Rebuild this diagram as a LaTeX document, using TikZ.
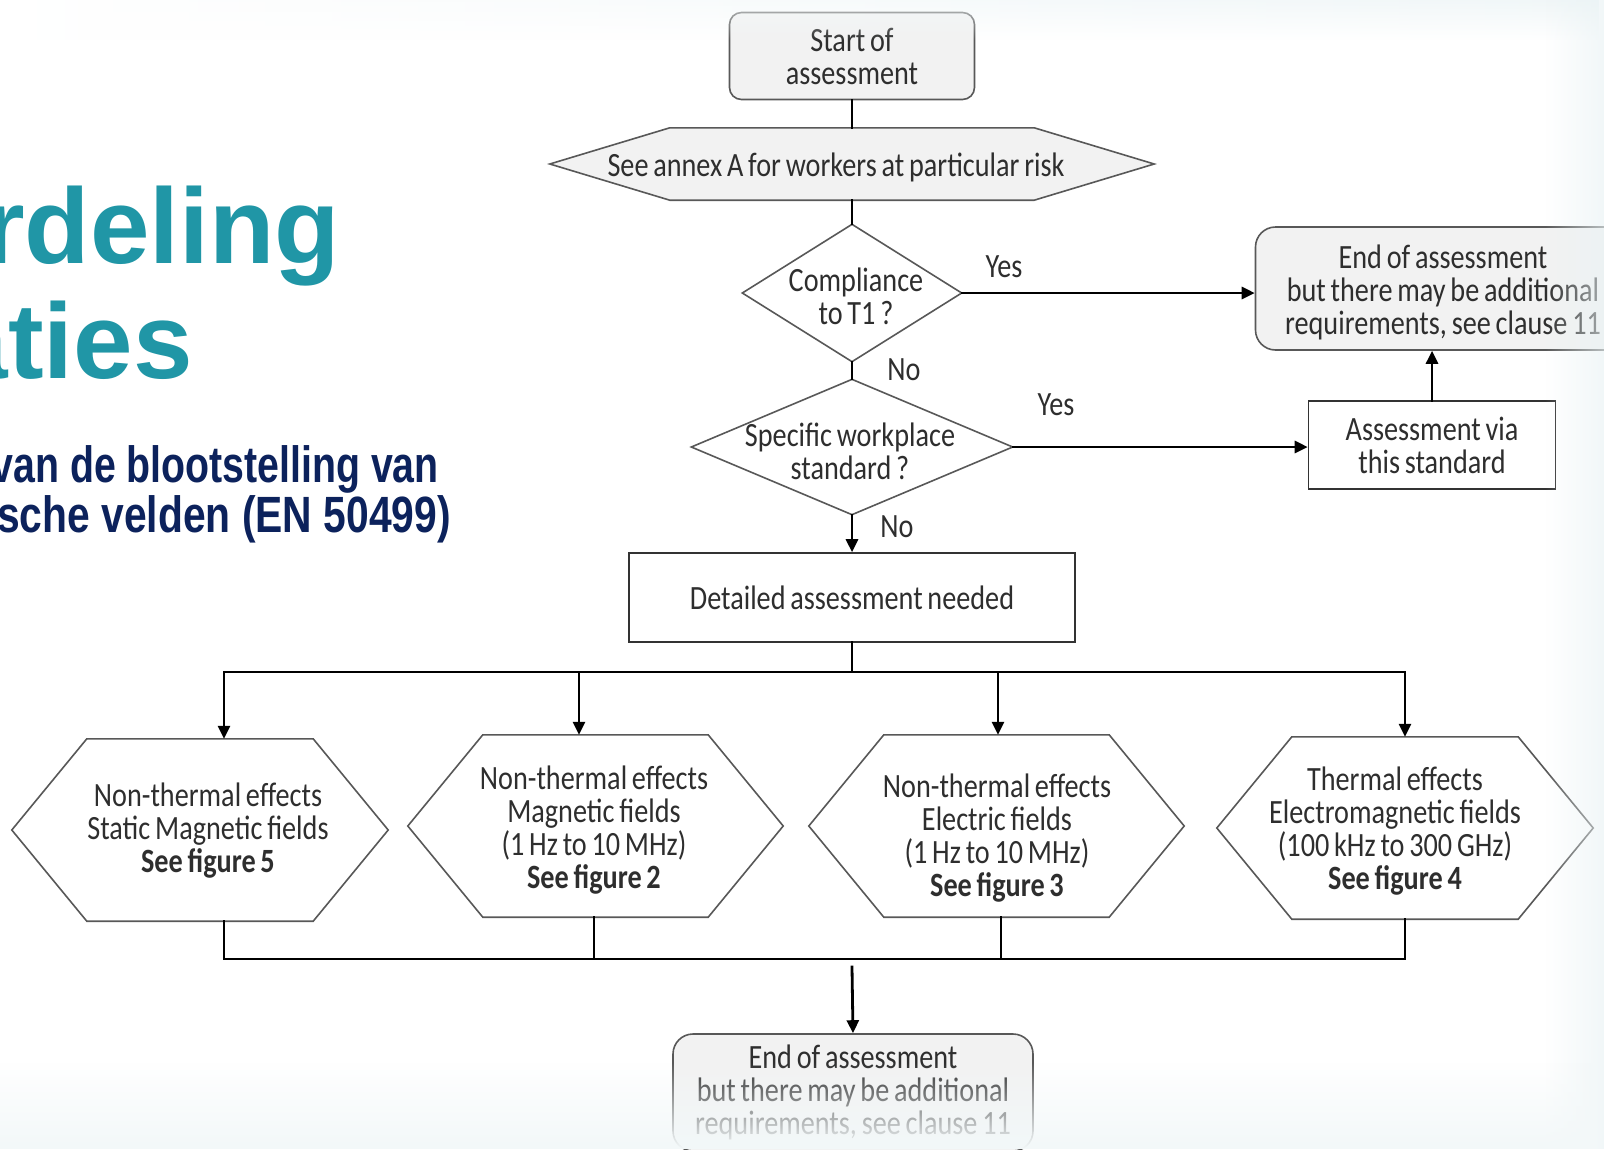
\documentclass[tikz,border=0pt]{standalone}
\usepackage{fontspec}
\usetikzlibrary{arrows.meta,shapes.geometric,calc,fadings,backgrounds}

\newfontfamily\flowfont[FakeStretch=0.83,WordSpace=0.75]{Carlito}
\newfontfamily\headfont{Liberation Sans}
\newfontfamily\subheadfont[FakeStretch=0.77]{Liberation Sans}
\newfontfamily\subheadwide[FakeStretch=0.80]{Liberation Sans}

\definecolor{headteal}{RGB}{32,150,166}
\definecolor{headnavy}{RGB}{12,34,92}
\definecolor{boxgray}{RGB}{242,242,242}
\definecolor{edgegray}{RGB}{88,88,88}
\definecolor{haze}{RGB}{234,243,245}
\definecolor{lowhaze}{RGB}{243,248,249}

\tikzfading[name=fadeup, top color=transparent!100, bottom color=transparent!0]
\tikzfading[name=fadedown, top color=transparent!30, bottom color=transparent!100]
\tikzfading[name=faderight, left color=transparent!100, right color=transparent!35]

% outline of a flat hexagon around a (rectangular) node: #2 node, #3 depth of the side points
\newcommand\hexoutline[3][]{%
  \draw[hexline,#1] (#2.west) -- ($(#2.north west)+(#3,0)$) -- ($(#2.north east)+(-#3,0)$)
    -- (#2.east) -- ($(#2.south east)+(-#3,0)$) -- ($(#2.south west)+(#3,0)$) -- cycle;}

\begin{document}
\begin{tikzpicture}[x=1pt,y=-1pt,
  flow/.style={font=\flowfont\fontsize{34}{33}\selectfont, text=black!82},
  roundbox/.style={flow, draw=edgegray, line width=1.6pt, fill=boxgray, align=center, inner sep=0pt},
  plainbox/.style={flow, draw=black!80, line width=1.6pt, fill=white, align=center, inner sep=0pt},
  hexbox/.style={inner sep=0pt, minimum width=376pt, minimum height=182pt},
  decision/.style={diamond, draw=edgegray, line width=1.6pt, fill=white, inner sep=0pt},
  caption/.style={flow, align=center, inner sep=0pt},
  hexline/.style={draw=edgegray, line width=1.6pt, line join=miter},
  conn/.style={draw=black, line width=2.8pt, line cap=rect},
  arrow/.style={conn, -{Triangle[length=13pt,width=12pt]}}
]
\useasboundingbox (0,0) rectangle (1604,1149);
\clip (0,0) rectangle (1604,1149);

\begin{pgfonlayer}{background}
  \fill[white] (0,0) rectangle (1604,1149);
\end{pgfonlayer}

% ---- heading on the left ----
\node[anchor=base east, inner sep=0pt, text=headteal,
      font=\headfont\bfseries\fontsize{107}{110}\selectfont] (title1) at (340,263) {rdeling};
\node[anchor=base west, inner sep=0pt, text=headteal,
      font=\headfont\bfseries\fontsize{107}{110}\selectfont] (title2) at (8,378) {\llap{a}ties};
\node[anchor=base east, inner sep=0pt, text=headnavy,
      font=\subheadfont\bfseries\fontsize{51}{51}\selectfont] (sub1) at (439,482) {van de blootstelling van};
\node[anchor=base west, inner sep=0pt, text=headnavy,
      font=\subheadwide\bfseries\fontsize{51}{51}\selectfont] (sub2) at (-3,532) {sche velden (EN 50499)};

% ---- flowchart nodes ----
\node[roundbox, rounded corners=12pt, minimum width=245pt, minimum height=87pt] (start) at (852,56) {Start of\\assessment};
\node[hexbox, minimum width=604pt, minimum height=72pt] (annex) at (852,164) {};
\node[caption] (annextext) at (836,167) {See annex A for workers at particular risk};

\node[decision, minimum width=220pt, minimum height=138pt] (q1) at (852,293) {};
\node[caption] (q1text) at (856,296) {Compliance\\to T1 ?};
\node[decision, minimum width=322pt, minimum height=136pt] (q2) at (852,447) {};
\node[caption] (q2text) at (850,451) {Specific workplace\\standard ?};

\node[roundbox, rounded corners=20pt, minimum width=375pt, minimum height=123pt] (end1) at (1443,288.5) {};
\node[caption] (end1text) at (1443,292) {End of assessment\\but there may be additional\\requirements, see clause 11};
\node[plainbox, minimum width=247pt, minimum height=88pt] (via) at (1432,445) {Assessment via\\this standard};
\node[plainbox, minimum width=446pt, minimum height=89pt] (detail) at (852,597.5) {Detailed assessment needed};

\node[caption] (yes1) at (1004,267) {Yes};
\node[caption] (no1) at (904,370) {No};
\node[caption] (yes2) at (1056,405) {Yes};
\node[caption] (no2) at (897,527) {No};

\node[hexbox] (h1) at (200,830) {};
\node[caption] (h1text) at (208,831) {Non-thermal effects\\Static Magnetic fields\\\textbf{See figure 5}};
\node[hexbox, minimum width=375pt] (h2) at (595.5,826) {};
\node[caption] (h2text) at (594,830) {Non-thermal effects\\Magnetic fields\\(1 Hz to 10 MHz)\\\textbf{See figure 2}};
\node[hexbox, minimum width=375pt] (h3) at (996.5,826) {};
\node[caption] (h3text) at (997,838) {Non-thermal effects\\Electric fields\\(1 Hz to 10 MHz)\\\textbf{See figure 3}};
\node[hexbox] (h4) at (1405,828) {};
\node[caption] (h4text) at (1395,831) {Thermal effects\\Electromagnetic fields\\(100 kHz to 300 GHz)\\\textbf{See figure 4}};

\node[roundbox, rounded corners=20pt, minimum width=360pt, minimum height=117pt] (end2) at (853,1092.5)
  {End of assessment\\but there may be additional\\requirements, see clause 11};

% hexagon outlines, behind the texts
\begin{pgfonlayer}{background}
  \hexoutline[fill=boxgray]{annex}{120}
  \hexoutline[fill=white]{h1}{75}
  \hexoutline[fill=white]{h2}{75}
  \hexoutline[fill=white]{h3}{75}
  \hexoutline[fill=white]{h4}{75}
\end{pgfonlayer}

% ---- connectors ----
\draw[conn] (start) -- (annex);
\draw[conn] (annex) -- (q1);
\draw[conn] (q1) -- (q2);
\draw[arrow] (q1.east) -- (q1.east -| end1.west);
\draw[arrow] (q2.east) -- (q2.east -| via.west);
\draw[arrow] (via.north) -- (via.north |- end1.south);
\draw[arrow] (q2) -- (detail);

% distribution bus to the four branches
\coordinate (b1) at (224,672);
\coordinate (b2) at (579,672);
\coordinate (b3) at (998,672);
\coordinate (b4) at (1405,672);
\draw[conn] (detail.south) -- (detail.south |- b1);
\draw[conn] (b1) -- (b4);
\draw[arrow] (b1) -- (b1 |- h1.north);
\draw[arrow] (b2) -- (b2 |- h2.north);
\draw[arrow] (b3) -- (b3 |- h3.north);
\draw[arrow] (b4) -- (b4 |- h4.north);

% collecting bus below the branches
\coordinate (c1) at (224,959);
\coordinate (c2) at (594,959);
\coordinate (c3) at (1001,959);
\coordinate (c4) at (1405,959);
\draw[conn] (h1.south -| c1) -- (c1);
\draw[conn] (h2.south -| c2) -- (c2);
\draw[conn] (h3.south -| c3) -- (c3);
\draw[conn] (h4.south -| c4) -- (c4);
\draw[conn] (c1) -- (c4);
\coordinate (merge) at (852,967);
\draw[arrow] (merge) -- (end2.north);

% ---- soft haze along the edges ----
\shade[left color=white, right color=haze, path fading=fadedown] (0,0) rectangle (1604,40);
\fill[haze, path fading=faderight] (1545,0) rectangle (1604,1149);
\fill[lowhaze, path fading=fadeup] (0,1062) rectangle (1604,1149);
\end{tikzpicture}
\end{document}
